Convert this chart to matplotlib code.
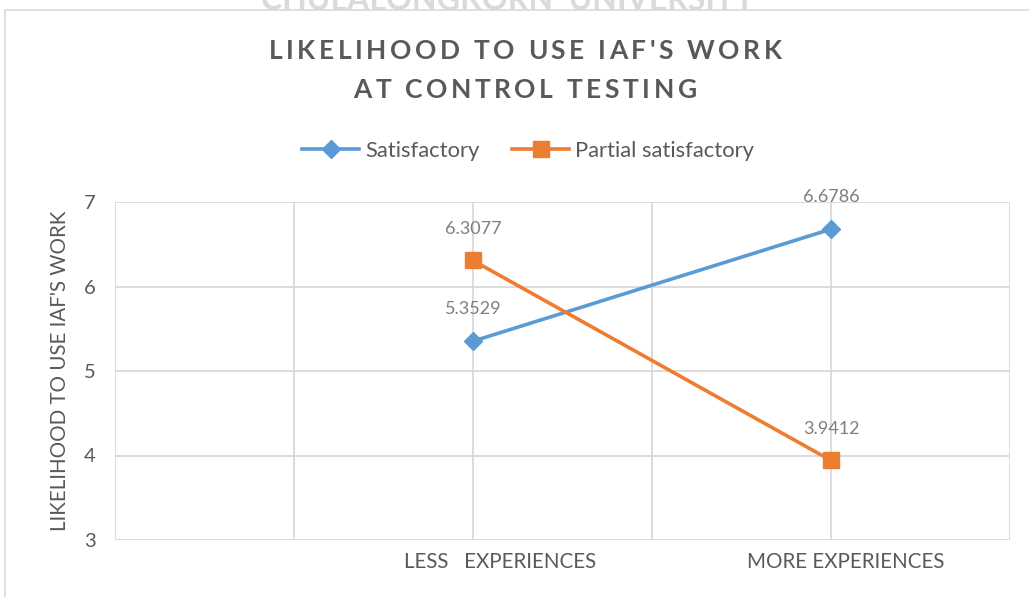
import matplotlib
matplotlib.use("Agg")
import matplotlib.pyplot as plt
from matplotlib.patches import Rectangle
from matplotlib.lines import Line2D

categories = ["LESS   EXPERIENCES", "MORE EXPERIENCES"]
cat_pos = [2, 4]
satisfactory = [5.3529, 6.6786]
partial = [6.3077, 3.9412]
series_names = ["Satisfactory", "Partial satisfactory"]
title_lines = ["LIKELIHOOD TO USE IAF'S WORK", "AT CONTROL TESTING"]
ylabel = "LIKELIHOOD TO USE IAF'S WORK"
yticks = [3, 4, 5, 6, 7]

BLUE = "#5B9BD5"
ORANGE = "#ED7D31"
TXT = "#595959"
GRID = "#D9D9D9"
FONT = ["Lato", "DejaVu Sans"]

plt.rcParams['font.family'] = FONT

W, H = 1029, 597
fig = plt.figure(figsize=(W / 100, H / 100), dpi=100)
renderer = fig.canvas.get_renderer()

# watermark (cut at top, as in the source page)
fig.text(508 / W, 1 - 10 / H, "CHULALONGKORN  UNIVERSITY", ha='center', va='baseline',
         fontsize=23, fontweight='bold', color="#DADADA")

# chart border
fig.patches.append(Rectangle((5 / W, -0.1), 1.2, 1 - 10 / H + 0.1, transform=fig.transFigure,
                             fill=False, edgecolor=GRID, lw=1.2))

ax = fig.add_axes([115 / W, 1 - 540 / H, (1010 - 115) / W, (540 - 202) / H])
ax.set_xlim(0, 5)
ax.set_ylim(3, 7)
ax.set_xticks(range(6))
ax.set_xticklabels([])
ax.set_yticks(yticks)
ax.set_yticklabels([str(v) for v in yticks], fontsize=14.5, color=TXT)
ax.tick_params(axis='both', length=0)
ax.tick_params(axis='y', pad=14)
ax.grid(True, color=GRID, lw=1.3)
ax.set_axisbelow(True)
for s in ax.spines.values():
    s.set_visible(False)

# category labels
ax.set_xticks([2.15, 4.08], minor=True)
ax.set_xticklabels(categories, minor=True, fontsize=14.8, color=TXT)
ax.tick_params(axis='x', which='minor', length=0, pad=9)

ax.plot(cat_pos, satisfactory, color=BLUE, lw=2.6, marker='D', markersize=9.5,
        label=series_names[0], zorder=3)
ax.plot(cat_pos, partial, color=ORANGE, lw=2.6, marker='s', markersize=12,
        label=series_names[1], zorder=3)

for x, v in zip(cat_pos, satisfactory):
    ax.annotate(f"{v:.4f}", (x, v), xytext=(0, 23), textcoords='offset points',
                ha='center', va='center', fontsize=13, color="#7F7F7F")
for x, v in zip(cat_pos, partial):
    ax.annotate(f"{v:.4f}", (x, v), xytext=(0, 23), textcoords='offset points',
                ha='center', va='center', fontsize=13, color="#7F7F7F")

ax.set_ylabel(ylabel, fontsize=14.8, color=TXT, va='center', ha='center')
ax.yaxis.set_label_coords((60 - 115) / (1010 - 115), 0.5)


def spaced_text(cx_px, cy_px, s, spacing_px, **kw):
    """Draw text centred at (cx_px, cy_px) (pixels from top-left) with letter spacing."""
    widths = []
    for ch in s:
        if ch == " ":
            t1 = fig.text(0, 0, "I I", **kw)
            t2 = fig.text(0, 0, "II", **kw)
            w = t1.get_window_extent(renderer).width - t2.get_window_extent(renderer).width
            t1.remove(); t2.remove()
        else:
            t = fig.text(0, 0, ch, **kw)
            w = t.get_window_extent(renderer).width
            t.remove()
        widths.append(w)
    total = sum(widths) + spacing_px * (len(s) - 1)
    x = cx_px - total / 2
    for ch, w in zip(s, widths):
        if ch != " ":
            fig.text(x / W, 1 - cy_px / H, ch, ha='left', va='center', **kw)
        x += w + spacing_px


title_kw = dict(fontsize=19, fontweight='bold', color=TXT)
spaced_text(525, 51, title_lines[0], 3.6, **title_kw)
spaced_text(525, 90, title_lines[1], 3.6, **title_kw)

handles = [Line2D([], [], color=BLUE, lw=2.6, marker='D', markersize=9.5),
           Line2D([], [], color=ORANGE, lw=2.6, marker='s', markersize=12)]
fig.legend(handles, series_names, loc='center', bbox_to_anchor=(528 / W, 1 - 151 / H),
           ncol=2, frameon=False, fontsize=15.8, labelcolor=TXT, handlelength=2.6,
           handletextpad=0.25, columnspacing=1.5)

fig.savefig("out.png", dpi=100)
